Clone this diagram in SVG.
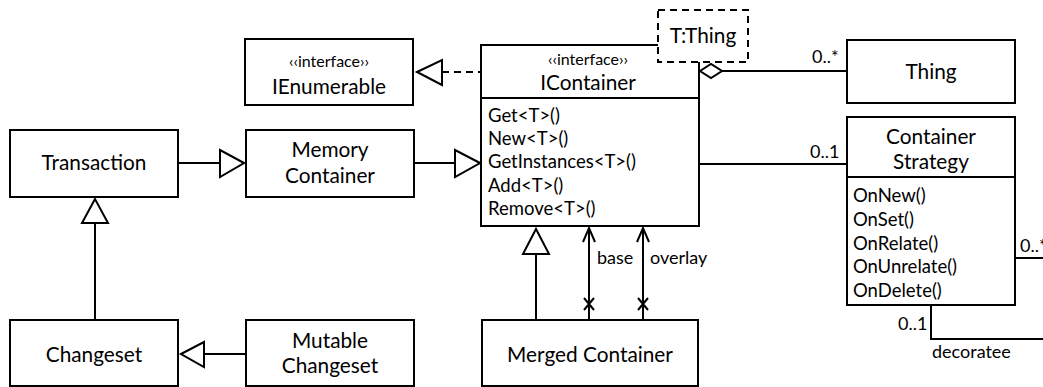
<svg xmlns="http://www.w3.org/2000/svg" width="1043" height="387" viewBox="0 0 1043 387">
<style>
.box{fill:#fff;stroke:#000;stroke-width:2}
.ln{fill:none;stroke:#000;stroke-width:2}
.dash{stroke-dasharray:7,5}
.tri{fill:#fff;stroke:#000;stroke-width:2}
text{font-family:Lato,"Open Sans",sans-serif;fill:#000}
.t{font-size:20.8px;text-anchor:middle}
.m{font-size:18.5px}
.s{font-size:16px;text-anchor:middle}
.lb{font-size:18px}
</style>
<rect width="1043" height="387" fill="#fff"/>
<g id="connectors">
  <line class="ln dash" x1="442" y1="72" x2="481" y2="72"/>
  <polygon class="tri" points="417,72 442,60 442,85"/>
  <line class="ln" x1="178" y1="163" x2="220" y2="163"/>
  <polygon class="tri" points="244,163 220,150 220,177"/>
  <line class="ln" x1="414" y1="163" x2="455" y2="163"/>
  <polygon class="tri" points="480,163 455,150 455,177"/>
  <line class="ln" x1="95" y1="223" x2="95" y2="320"/>
  <polygon class="tri" points="95,199 82,223 108,223"/>
  <line class="ln" x1="204" y1="354" x2="246" y2="354"/>
  <polygon class="tri" points="181,354 204,342 204,367"/>
  <line class="ln" x1="536" y1="254" x2="536" y2="320"/>
  <polygon class="tri" points="536,229 523,254 549,254"/>
  <line class="ln" x1="589" y1="228" x2="589" y2="320"/>
  <polyline class="ln" points="583,242 589,228 595,242"/>
  <path class="ln" d="M584,298 L594,310 M594,298 L584,310"/>
  <text class="lb" x="597" y="264">base</text>
  <line class="ln" x1="643" y1="228" x2="643" y2="320"/>
  <polyline class="ln" points="637,242 643,228 649,242"/>
  <path class="ln" d="M638,298 L648,310 M648,298 L638,310"/>
  <text class="lb" x="650" y="264">overlay</text>
  <line class="ln" x1="722" y1="71" x2="847" y2="71"/>
  <polygon class="tri" points="700,71 711,64 722,71 711,78"/>
  <text class="lb" x="812" y="63">0..*</text>
  <line class="ln" x1="699" y1="164" x2="847" y2="164"/>
  <text class="lb" x="810" y="158">0..1</text>
  <line class="ln" x1="1015" y1="258" x2="1043" y2="258"/>
  <text class="lb" x="1020" y="252">0..*</text>
  <polyline class="ln" points="931,305 931,339 1043,339"/>
  <text class="lb" x="898" y="330">0..1</text>
  <text class="lb" x="932" y="358">decoratee</text>
</g>
<g id="IEnumerable">
  <rect class="box" x="245" y="39" width="168" height="66"/>
  <text class="s" x="329" y="67">‹‹interface››</text>
  <text class="t" x="329" y="94">IEnumerable</text>
</g>
<g id="IContainer">
  <rect class="box" x="481" y="45" width="218" height="181"/>
  <line class="ln" x1="481" y1="98" x2="699" y2="98"/>
  <text class="s" x="588" y="65">‹‹interface››</text>
  <text class="t" x="588" y="90">IContainer</text>
  <text class="m" x="488" y="122">Get&lt;T&gt;()</text>
  <text class="m" x="488" y="145">New&lt;T&gt;()</text>
  <text class="m" x="488" y="168">GetInstances&lt;T&gt;()</text>
  <text class="m" x="488" y="192">Add&lt;T&gt;()</text>
  <text class="m" x="488" y="215">Remove&lt;T&gt;()</text>
</g>
<g id="TThing">
  <rect class="box dash" x="658" y="10" width="90" height="52"/>
  <text class="t" x="703" y="43">T:Thing</text>
</g>
<g id="Thing">
  <rect class="box" x="847" y="40" width="168" height="63"/>
  <text class="t" x="931" y="79">Thing</text>
</g>
<g id="ContainerStrategy">
  <rect class="box" x="847" y="117" width="168" height="188"/>
  <line class="ln" x1="847" y1="177" x2="1015" y2="177"/>
  <text class="t" x="931" y="144">Container</text>
  <text class="t" x="931" y="169">Strategy</text>
  <text class="m" x="853" y="202">OnNew()</text>
  <text class="m" x="853" y="226">OnSet()</text>
  <text class="m" x="853" y="250">OnRelate()</text>
  <text class="m" x="853" y="273">OnUnrelate()</text>
  <text class="m" x="853" y="297">OnDelete()</text>
</g>
<g id="Transaction">
  <rect class="box" x="10" y="130" width="168" height="67"/>
  <text class="t" x="94" y="170">Transaction</text>
</g>
<g id="MemoryContainer">
  <rect class="box" x="246" y="130" width="168" height="67"/>
  <text class="t" x="330" y="157">Memory</text>
  <text class="t" x="330" y="183">Container</text>
</g>
<g id="Changeset">
  <rect class="box" x="10" y="320" width="168" height="66"/>
  <text class="t" x="94" y="362">Changeset</text>
</g>
<g id="MutableChangeset">
  <rect class="box" x="246" y="320" width="168" height="66"/>
  <text class="t" x="330" y="348">Mutable</text>
  <text class="t" x="330" y="373">Changeset</text>
</g>
<g id="MergedContainer">
  <rect class="box" x="482" y="320" width="216" height="66"/>
  <text class="t" x="590" y="362">Merged Container</text>
</g>
</svg>
